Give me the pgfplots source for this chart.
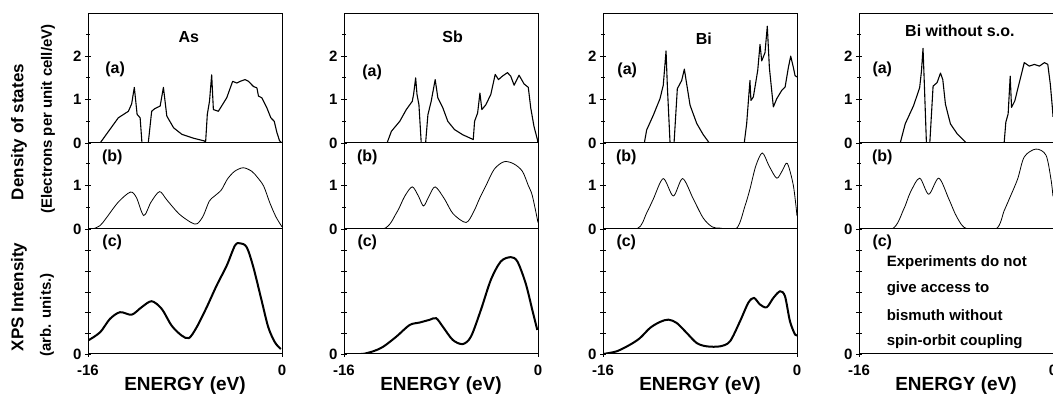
\documentclass[border=0pt]{standalone}
\usepackage{fontspec}
\setmainfont{Liberation Sans}
\usepackage{pgfplots}
\pgfplotsset{compat=1.18}
\newcommand{\fs}[1]{\fontsize{#1}{#1}\selectfont\bfseries}
\tikzset{lab/.style={font=\fs{16}}}
\pgfplotsset{
  base/.style={scale only axis, width=194pt, xmin=-16, xmax=0, ymin=0, anchor=south west,
    axis line style={line width=1pt, black},
    every tick/.style={black, line width=0.8pt},
    tick align=center, major tick length=6pt, minor tick length=4pt,
    ytick pos=left, xtick pos=bottom,
    tick label style={font=\fs{15}}},
  rowa/.style={base, height=129pt, ymax=2.97, ytick={0,1,2}, yticklabels={0,1,2}, minor ytick={0.5,1.5,2.5}, xtick=\empty},
  rowb/.style={base, height=86pt, ymax=1.98, ytick={0,1}, yticklabels={0,1}, minor ytick={0.5,1.5}, xtick=\empty},
  rowc/.style={base, height=125pt, ymax=6.04, ytick={0,1,2,3,4,5}, yticklabels={0,{},{},{},{},{}}, xtick={-16,0}, xticklabels={-16,0},
    xticklabel style={yshift=-4pt},
    xlabel={ENERGY (eV)}, xlabel style={font=\fs{19}, yshift=5pt}},
  ca/.style={black, line width=1.1pt, line join=round},
  cb/.style={black, line width=0.8pt, smooth, tension=0.5},
  cc/.style={black, line width=2pt, smooth, tension=0.5},
}
\begin{document}
\begin{tikzpicture}
% ================= As =================
\begin{axis}[rowa, at={(88pt,253pt)}]
\addplot[ca] coordinates {(-16,0)(-15.0,0)(-14.2,0.31)(-13.5,0.58)(-12.67,0.73)(-12.4,0.9)(-12.18,1.28)(-11.95,0.66)(-11.7,0.58)(-11.55,0)(-11.03,0)(-10.75,0.73)(-10.5,0.79)(-10.05,0.85)(-9.78,1.28)(-9.5,0.62)(-8.94,0.35)(-8.26,0.2)(-7.3,0.11)(-6.43,0.05)(-6.3,0.02)(-6.16,0.66)(-5.98,0.96)(-5.8,1.57)(-5.66,0.77)(-5.25,0.73)(-4.56,1.04)(-4.07,1.42)(-3.72,1.38)(-3.45,1.42)(-3.04,1.46)(-2.77,1.42)(-2.35,1.3)(-2.07,1.27)(-1.94,1.08)(-1.66,1.04)(-1.25,0.81)(-0.92,0.58)(-0.64,0.5)(-0.42,0.24)(-0.2,0.05)(0,0)};
\node[lab] at (rel axis cs:0.14,0.57) {(a)};
\node[lab] at (rel axis cs:0.52,0.82) {As};
\end{axis}
\begin{axis}[rowb, at={(88pt,167pt)}]
\addplot[cb] coordinates {(-15.6,0)(-15,0.08)(-14.5,0.25)(-13.5,0.62)(-12.5,0.85)(-12,0.72)(-11.4,0.31)(-10.8,0.62)(-10.1,0.86)(-9.5,0.67)(-8.5,0.35)(-7.5,0.15)(-7,0.12)(-6.5,0.3)(-6,0.64)(-5.6,0.75)(-5,0.9)(-4.5,1.15)(-3.9,1.33)(-3.2,1.41)(-2.5,1.33)(-2,1.18)(-1.5,0.98)(-1,0.6)(-0.5,0.28)(0,0.05)};
\node[lab] at (rel axis cs:0.125,0.83) {(b)};
\end{axis}
\begin{axis}[rowc, at={(88pt,42pt)}]
\addplot[cc] coordinates {(-16,0.65)(-15.0,1.05)(-14.2,1.69)(-13.36,2.02)(-12.4,1.9)(-11.58,2.26)(-10.75,2.55)(-9.92,2.18)(-9.1,1.37)(-8.27,0.89)(-7.67,0.77)(-7.04,1.29)(-6.21,2.26)(-5.39,3.31)(-4.56,4.27)(-3.88,5.24)(-3.46,5.35)(-2.91,5.16)(-2.36,4.19)(-1.68,2.58)(-1.13,1.29)(-0.58,0.56)(-0.1,0.24)};
\node[lab] at (rel axis cs:0.125,0.89) {(c)};
\end{axis}
% ================= Sb =================
\begin{axis}[rowa, at={(344pt,253pt)}]
\addplot[ca] coordinates {(-16,0)(-12.45,0)(-12.09,0.27)(-11.4,0.5)(-10.86,0.77)(-10.37,0.96)(-10.26,1.12)(-10.09,1.5)(-9.98,1.12)(-9.82,0.88)(-9.63,0)(-9.27,0)(-9.08,0.65)(-8.81,0.96)(-8.48,1.46)(-8.26,1.04)(-7.85,0.81)(-7.44,0.5)(-6.89,0.31)(-6.21,0.19)(-5.34,0.08)(-5.23,0.5)(-4.98,0.69)(-4.79,1.15)(-4.63,0.77)(-4.3,0.88)(-3.89,1.12)(-3.53,1.58)(-3.26,1.46)(-2.93,1.54)(-2.52,1.62)(-2.25,1.54)(-1.97,1.33)(-1.56,1.56)(-1.15,1.36)(-0.8,1.28)(-0.6,0.81)(-0.33,0.38)(-0.05,0.08)(0,0)};
\node[lab] at (rel axis cs:0.145,0.55) {(a)};
\node[lab] at (rel axis cs:0.56,0.82) {Sb};
\end{axis}
\begin{axis}[rowb, at={(344pt,167pt)}]
\addplot[cb] coordinates {(-16,0)(-12.77,0)(-11.67,0.37)(-11,0.75)(-10.37,0.97)(-9.85,0.75)(-9.44,0.53)(-9,0.75)(-8.48,0.97)(-7.71,0.69)(-7,0.35)(-5.93,0.15)(-5.3,0.4)(-4.84,0.69)(-4.29,1.0)(-3.6,1.38)(-2.79,1.55)(-2,1.5)(-1.29,1.33)(-0.8,1.0)(-0.47,0.77)(0,0.15)};
\node[lab] at (rel axis cs:0.12,0.83) {(b)};
\end{axis}
\begin{axis}[rowc, at={(344pt,42pt)}]
\addplot[cc] coordinates {(-14.6,0)(-14.28,0.02)(-13.5,0.15)(-12.77,0.35)(-11.68,0.84)(-10.59,1.4)(-9.77,1.52)(-8.95,1.65)(-8.4,1.73)(-7.85,1.32)(-7.03,0.68)(-6.21,0.48)(-5.53,0.84)(-4.71,2.13)(-3.89,3.58)(-3.07,4.47)(-2.25,4.68)(-1.7,4.47)(-1.02,3.42)(-0.47,2.13)(-0.06,1.16)};
\node[lab] at (rel axis cs:0.12,0.89) {(c)};
\end{axis}
% ================= Bi =================
\begin{axis}[rowa, at={(603pt,253pt)}]
\addplot[ca] coordinates {(-16,0)(-12.59,0)(-12.4,0.3)(-11.85,0.64)(-11.3,1.02)(-11.03,1.33)(-10.8,2.12)(-10.69,1.29)(-10.47,0)(-10.14,0)(-9.87,1.25)(-9.51,1.44)(-9.29,1.7)(-9.1,1.36)(-8.82,0.87)(-8.27,0.45)(-7.73,0.19)(-7.23,0)(-4.35,0)(-4.15,0.45)(-3.88,1.44)(-3.8,0.98)(-3.6,1.06)(-3.24,1.67)(-3.05,2.27)(-2.91,1.89)(-2.64,2.08)(-2.45,2.69)(-2.28,1.74)(-1.95,0.83)(-1.67,1.02)(-1.26,1.21)(-0.98,1.29)(-0.71,1.74)(-0.52,2.0)(-0.3,1.74)(-0.16,1.55)(0,1.52)};
\node[lab] at (rel axis cs:0.125,0.56) {(a)};
\node[lab] at (rel axis cs:0.52,0.81) {Bi};
\end{axis}
\begin{axis}[rowb, at={(603pt,167pt)}]
\addplot[cb] coordinates {(-16,0)(-13.22,0)(-12.4,0.37)(-11.85,0.69)(-11.03,1.16)(-10.2,0.76)(-9.43,1.16)(-8.55,0.69)(-7.73,0.25)(-7,0.05)(-6.35,0.02)(-4.97,0.02)(-4.29,0.53)(-3.88,0.92)(-3.4,1.45)(-2.86,1.75)(-2.3,1.45)(-1.67,1.17)(-1.2,1.35)(-0.8,1.51)(-0.3,1.0)(0,0.3)};
\node[lab] at (rel axis cs:0.12,0.83) {(b)};
\end{axis}
\begin{axis}[rowc, at={(603pt,42pt)}]
\addplot[cc] coordinates {(-16,0)(-14.87,0.13)(-13.77,0.45)(-12.95,0.77)(-12.12,1.26)(-11.3,1.55)(-10.61,1.66)(-9.92,1.5)(-9.1,1.02)(-8.27,0.53)(-7.45,0.37)(-6.35,0.37)(-5.53,0.61)(-4.7,1.58)(-4.02,2.47)(-3.55,2.71)(-3.05,2.39)(-2.5,2.26)(-1.95,2.71)(-1.4,3.03)(-0.99,2.79)(-0.58,1.58)(-0.16,0.94)(0,0.94)};
\node[lab] at (rel axis cs:0.12,0.89) {(c)};
\end{axis}
% ================= Bi without s.o. =================
\begin{axis}[rowa, at={(859pt,253pt)}]
\addplot[ca] coordinates {(-16,0)(-12.6,0)(-12.19,0.44)(-11.5,0.86)(-11.0,1.27)(-10.85,1.65)(-10.72,2.18)(-10.61,1.35)(-10.44,0)(-10.16,0)(-9.89,1.31)(-9.56,1.39)(-9.28,1.61)(-9.09,1.46)(-8.87,0.89)(-8.46,0.44)(-7.9,0.21)(-7.15,0)(-4.03,0)(-3.89,0.48)(-3.7,0.67)(-3.53,1.54)(-3.42,0.82)(-3.15,0.97)(-2.78,1.39)(-2.37,1.85)(-1.95,1.77)(-1.54,1.81)(-1.12,1.77)(-0.71,1.85)(-0.43,1.81)(-0.22,1.35)(-0.03,0.74)(0,0.6)};
\node[lab] at (rel axis cs:0.12,0.57) {(a)};
\node[lab] at (rel axis cs:0.52,0.87) {Bi without s.o.};
\end{axis}
\begin{axis}[rowb, at={(859pt,167pt)}]
\addplot[cb] coordinates {(-16,0)(-13.29,0)(-12.32,0.45)(-11.77,0.84)(-11.0,1.17)(-10.25,0.8)(-9.42,1.17)(-8.59,0.69)(-7.9,0.26)(-7.07,0)(-4.72,0)(-4.03,0.42)(-3.61,0.69)(-2.92,1.15)(-2.37,1.66)(-1.41,1.84)(-0.58,1.7)(-0.17,1.15)(0,0.75)};
\node[lab] at (rel axis cs:0.12,0.83) {(b)};
\end{axis}
\begin{axis}[rowc, at={(859pt,42pt)}]
\node[lab] at (rel axis cs:0.12,0.89) {(c)};
\node[font=\fs{15}, anchor=west] at (rel axis cs:0.125,0.73) {Experiments do not};
\node[font=\fs{15}, anchor=west] at (rel axis cs:0.125,0.52) {give access to};
\node[font=\fs{15}, anchor=west] at (rel axis cs:0.125,0.31) {bismuth without};
\node[font=\fs{15}, anchor=west] at (rel axis cs:0.125,0.10) {spin-orbit coupling};
\end{axis}
% ================= y labels =================
\node[rotate=90, font=\fs{17}] at (19pt,264pt) {Density of states};
\node[rotate=90, font=\fs{15}] at (48pt,277pt) {(Electrons per unit cell/eV)};
\node[rotate=90, font=\fs{17}] at (19pt,99pt) {XPS Intensity};
\node[rotate=90, font=\fs{15}] at (47pt,81pt) {(arb. units.)};
\pgfresetboundingbox
\path[use as bounding box] (0pt,0pt) rectangle (1053pt,396pt);
\end{tikzpicture}
\end{document}
